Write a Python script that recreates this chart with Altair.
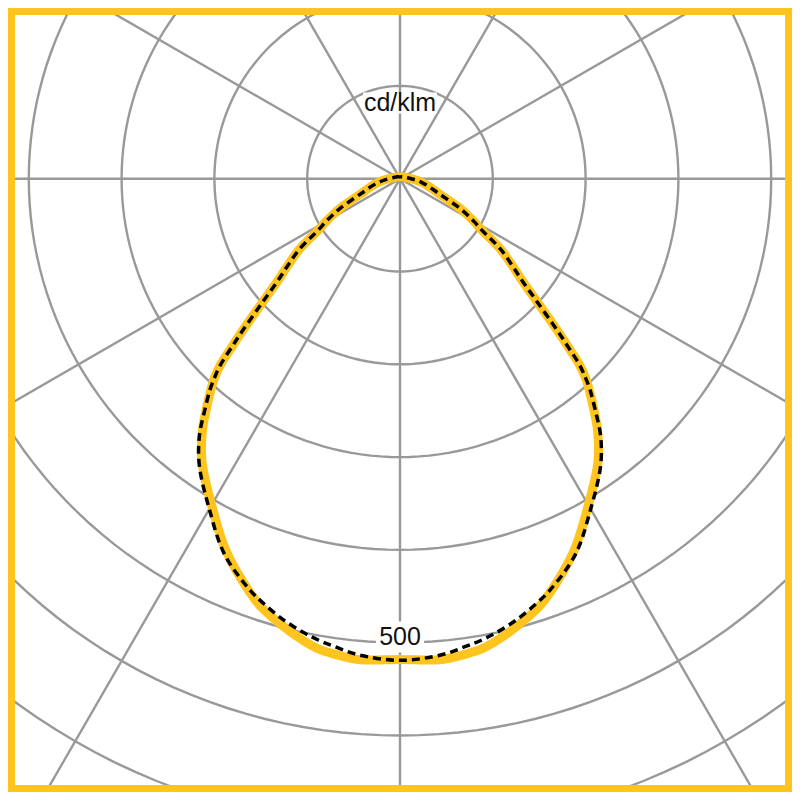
import math
import altair as alt
import pandas as pd

# ---------------- data ----------------
# gamma angle from nadir (degrees), luminous intensity in cd/klm
angles = [0, 5, 8, 10, 12, 15, 18, 20, 25, 30, 35, 38, 40, 42, 43, 44, 45, 46,
          48, 50, 52, 55, 58, 60, 62, 64, 67, 70, 75, 80, 85, 90, 100, 110,
          120, 135, 150, 165, 180]
c0_values = [518, 520, 517, 514, 508, 497, 485, 474, 443, 406, 372, 346, 325,
             304, 293, 278, 256, 236, 200, 173, 155, 132, 103, 92, 81, 70, 53,
             42, 32, 24, 17, 12, 7, 5, 4, 3, 2.5, 2.2, 2.2]
c90_values = [519, 515, 509, 505, 500, 491, 480, 472, 447, 411, 377, 351, 328,
              306, 293, 278, 256, 236, 200, 173, 155, 132, 103, 92, 81, 70, 53,
              42, 32, 24, 17, 12, 7, 5, 4, 3, 2.5, 2.2, 2.2]
ring_values = [100, 200, 300, 400, 500, 600, 700, 800]
spoke_angles = [0, 30, 60, 90, 120, 150, 180, 210, 240, 270, 300, 330]
label_texts = ["cd/klm", "500"]

# ---------------- layout / style ----------------
K = 0.928              # px per cd/klm
CX, CY = 400.0, 178.7  # pole position on the page
W = H = 784
YELLOW = "#FFC41E"
GRID = "#999999"
FONT = "Liberation Sans"

xdom = [(8 - CX) / K, (8 + W - CX) / K]
ydom = [(CY - 8 - H) / K, (CY - 8) / K]
xs = alt.Scale(domain=xdom, nice=False, zero=False)
ys = alt.Scale(domain=ydom, nice=False, zero=False)


def X(f):
    return alt.X(f, type="quantitative", scale=xs, axis=None)


def Y(f):
    return alt.Y(f, type="quantitative", scale=ys, axis=None)


# curves: mirror the half-plane values to both sides
def curve_frame(values, name):
    g = [-a for a in reversed(angles)] + angles[1:]
    v = list(reversed(values)) + values[1:]
    rows = []
    for i, (a, val) in enumerate(zip(g, v)):
        t = math.radians(a)
        rows.append({"idx": i, "x": val * math.sin(t), "y": -val * math.cos(t),
                     "series": name})
    return pd.DataFrame(rows)


df_c0 = curve_frame(c0_values, "C0-C180")
df_c90 = curve_frame(c90_values, "C90-C270")

ring_rows = []
for r in ring_values:
    for d in range(0, 361, 2):
        t = math.radians(d)
        ring_rows.append({"r": r, "d": d, "x": r * math.sin(t), "y": r * math.cos(t)})
df_rings = pd.DataFrame(ring_rows)

R_MAX = 1000
df_spokes = pd.DataFrame({
    "x0": [0.0] * len(spoke_angles),
    "y0": [0.0] * len(spoke_angles),
    "x1": [R_MAX * math.sin(math.radians(a)) for a in spoke_angles],
    "y1": [R_MAX * math.cos(math.radians(a)) for a in spoke_angles],
})

# label placement (in chart units)
lab_x = [0.0, 0.0]
lab_y = [(CY - 103) / K, (CY - 637) / K]
lab_hw = [37 / K, 24 / K]
lab_hh = [10.5 / K, 15.5 / K]
df_labels = pd.DataFrame({
    "text": label_texts, "x": lab_x, "y": lab_y,
    "xa": [a - b for a, b in zip(lab_x, lab_hw)],
    "xb": [a + b for a, b in zip(lab_x, lab_hw)],
    "ya": [a - b for a, b in zip(lab_y, lab_hh)],
    "yb": [a + b for a, b in zip(lab_y, lab_hh)],
})

rings = alt.Chart(df_rings).mark_line(
    color=GRID, strokeWidth=2.4, clip=True
).encode(x=X("x"), y=Y("y"), detail="r:N", order="d:Q")

spokes = alt.Chart(df_spokes).mark_rule(
    color=GRID, strokeWidth=2.4, clip=True
).encode(x=X("x0"), y=Y("y0"), x2="x1:Q", y2="y1:Q")

label_bg = alt.Chart(df_labels).mark_rect(color="white").encode(
    x=X("xa"), x2="xb:Q", y=Y("ya"), y2="yb:Q")

labels = alt.Chart(df_labels).mark_text(
    font=FONT, fontSize=25, color="#111111", align="center", baseline="middle"
).encode(x=X("x"), y=Y("y"), text="text:N")

yellow = alt.Chart(df_c0).mark_line(
    color=YELLOW, strokeWidth=9, interpolate="catmull-rom",
    strokeCap="round", strokeJoin="round"
).encode(x=X("x"), y=Y("y"), order="idx:Q")

dashed = alt.Chart(df_c90).mark_line(
    color="black", strokeWidth=3.5, interpolate="catmull-rom",
    strokeDash=[8, 5]
).encode(x=X("x"), y=Y("y"), order="idx:Q")

frame = alt.Chart(pd.DataFrame({"a": [0]})).mark_rect(
    fillOpacity=0, stroke=YELLOW, strokeWidth=14
).encode(x=alt.value(0), x2=alt.value(W), y=alt.value(0), y2=alt.value(H))

chart = alt.layer(rings, spokes, label_bg, labels, yellow, dashed, frame).properties(
    width=W, height=H, padding=0, autosize=alt.AutoSizeParams(type="none"),
    background="white"
).configure_view(stroke=None)

chart.save("out.html", embed_options={"renderer": "svg", "actions": False})
